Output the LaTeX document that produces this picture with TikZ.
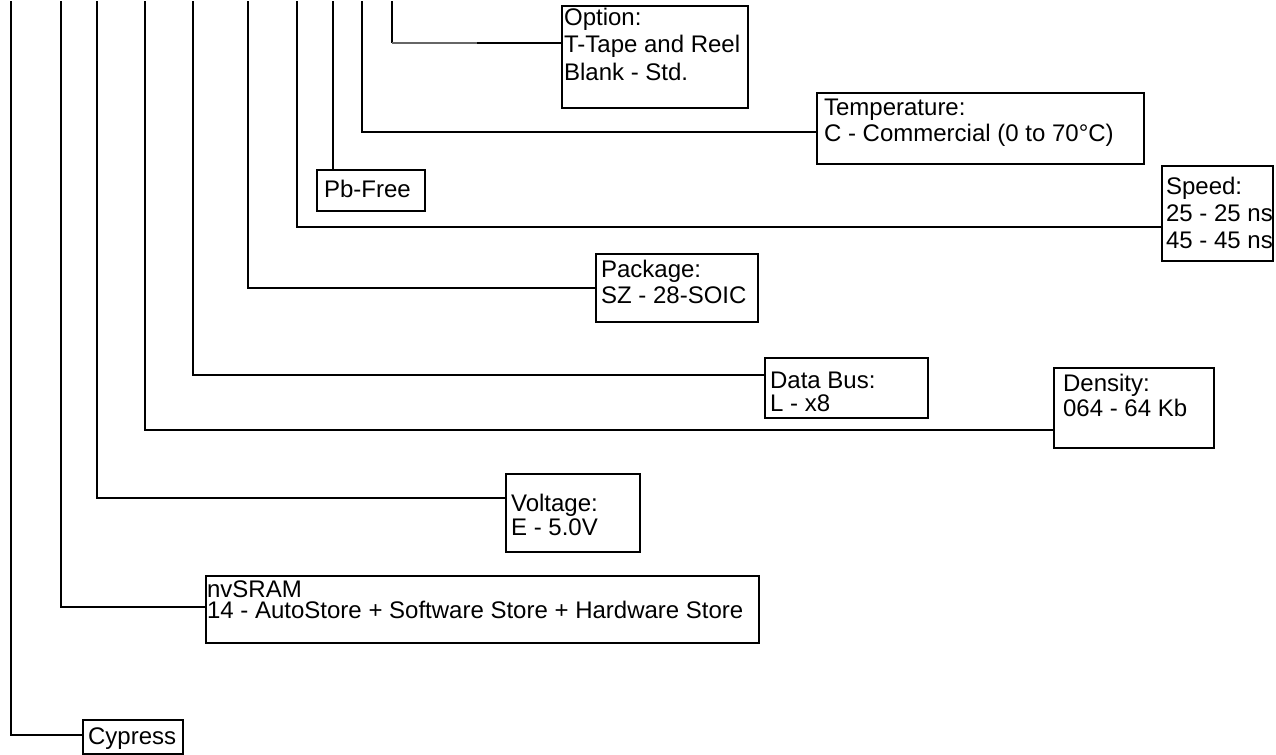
\documentclass[tikz,border=0pt]{standalone}
\usepackage{fontspec}
\setmainfont{Liberation Sans}
\newcommand{\tbox}[6]{\parbox[c][#2pt][t]{#1pt}{\fontsize{12}{#4}\selectfont\lineskiplimit=-100pt\raggedright\leftskip=#5pt\parindent=0pt\rule{0pt}{#3pt}#6\par}}
\tikzset{
  box/.style={draw=black, line width=1.1pt, inner sep=0pt, anchor=north west, fill=white},
  conn/.style={draw=black, line width=1.1pt}
}
\begin{document}
\begin{tikzpicture}[x=0.5pt,y=-0.5pt]
\useasboundingbox (0,0) rectangle (1276,755);
% boxes
\node[box] (opt) at (561,5) {\tbox{93}{51}{9.5}{13.75pt}{1}{Option:\\T-Tape and Reel\\Blank - Std.}};
\node[box] (temp) at (816,92) {\tbox{163.5}{35.5}{11}{13pt}{3.5}{Temperature:\\C - Commercial (0 to 70°C)}};
\node[box] (pb) at (316,169) {\tbox{54}{20.5}{13.5}{13pt}{3.5}{Pb-Free}};
\node[box] (speed) at (1161,165) {\tbox{55.5}{47.5}{14}{13.5pt}{2}{Speed:\\25 - 25 ns\\45 - 45 ns}};
\node[box] (pkg) at (595,253) {\tbox{81}{34}{11.5}{13pt}{2.5}{Package:\\SZ - 28-SOIC}};
\node[box] (bus) at (764,357) {\tbox{81.5}{30}{15}{11.5pt}{2.5}{Data Bus:\\L - x8}};
\node[box] (dens) at (1053,367) {\tbox{80}{40}{11.5}{12.5pt}{4.5}{Density:\\064 - 64 Kb}};
\node[box] (volt) at (505,473) {\tbox{67}{39}{18.5}{12pt}{2.5}{Voltage:\\E - 5.0V}};
\node[box] (nv) at (205,575) {\tbox{276.5}{33.5}{10.5}{10.5pt}{0.5}{nvSRAM\\14 - AutoStore + Software Store + Hardware Store}};
\node[box] (cy) at (82,719) {\tbox{50}{17}{12}{13pt}{2.5}{Cypress}};
% top ends of connectors
\coordinate (t1) at (11,1);
\coordinate (t2) at (61,1);
\coordinate (t3) at (97,1);
\coordinate (t4) at (145,1);
\coordinate (t5) at (193,1);
\coordinate (t6) at (248,1);
\coordinate (t7) at (297,1);
\coordinate (t8) at (333,1);
\coordinate (t9) at (362,1);
\coordinate (t10) at (392,1);
% entry points
\coordinate (e1) at (82,735);
\coordinate (e2) at (205,607);
\coordinate (e3) at (505,498);
\coordinate (e4) at (1053,430);
\coordinate (e5) at (764,375);
\coordinate (e6) at (595,288);
\coordinate (e7) at (1161,227);
\coordinate (e9) at (816,132);
\coordinate (e10) at (561,43);
\coordinate (c10) at (392,43);
\coordinate (m10) at (477,43);
% connectors
\draw[conn] (t1) |- (e1);
\draw[conn] (t2) |- (e2);
\draw[conn] (t3) |- (e3);
\draw[conn] (t4) |- (e4);
\draw[conn] (t5) |- (e5);
\draw[conn] (t6) |- (e6);
\draw[conn] (t7) |- (e7);
\draw[conn] (t8) -- (pb.north -| t8);
\draw[conn] (t9) |- (e9);
\draw[conn] (t10) -- (c10);
\draw[conn, draw=black!60] (c10) -- (m10);
\draw[conn] (m10) -- (e10);
\end{tikzpicture}
\end{document}
